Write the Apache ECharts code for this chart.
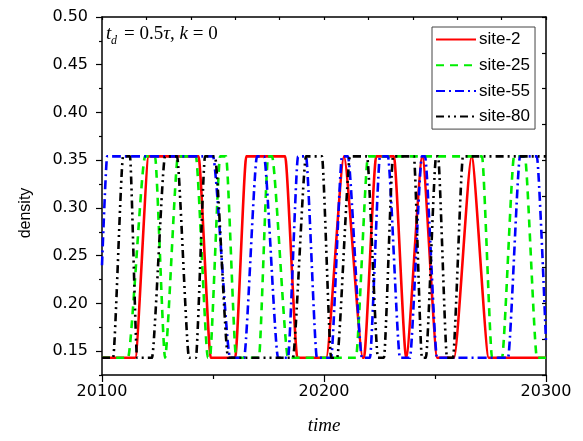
<!DOCTYPE html>
<html>
<head>
<meta charset="utf-8">
<script src="https://cdn.jsdelivr.net/npm/echarts@6/dist/echarts.min.js"></script>
<style>
  html, body { margin: 0; padding: 0; background: #fff; }
  #chart { width: 583px; height: 441px; }
</style>
</head>
<body>
<div id="chart"></div>
<script>
// density levels of the two plateaus
const LOW = 0.143;
const HIGH = 0.354;

// [time, density] samples for each site
const site2 = [
  [20100, LOW], [20115, LOW], [20121, HIGH], [20143.5, HIGH], [20149, LOW],
  [20160, LOW], [20165, HIGH], [20182.5, HIGH], [20188, LOW],
  [20201, LOW], [20209, HIGH], [20217.5, LOW],
  [20218, LOW], [20223.5, HIGH], [20231.5, HIGH], [20237, LOW],
  [20244.3, HIGH], [20251, LOW],
  [20258.6, LOW], [20266.5, HIGH], [20274.2, LOW],
  [20300, LOW]
];
const site25 = [
  [20100, LOW], [20111.7, LOW], [20119.4, HIGH], [20123.9, HIGH], [20128.4, LOW],
  [20134.2, HIGH], [20142.3, HIGH], [20147.7, LOW], [20148.6, LOW], [20153.2, HIGH],
  [20155.9, HIGH], [20160.4, LOW], [20170.7, LOW], [20174.8, HIGH], [20176.6, HIGH],
  [20183.8, LOW], [20214.4, LOW], [20219.8, HIGH], [20271.2, HIGH], [20275.7, LOW],
  [20280.2, LOW], [20285.6, HIGH], [20290.5, HIGH], [20295.9, LOW], [20300, LOW]
];
const site55 = [
  [20100, 0.24], [20102.3, HIGH], [20150, HIGH], [20157.7, LOW], [20164, LOW],
  [20169.8, HIGH], [20173, HIGH], [20179.3, LOW], [20183.8, LOW], [20188.3, HIGH],
  [20191.9, HIGH], [20196.8, LOW], [20203.2, LOW], [20208.1, HIGH], [20210.8, HIGH],
  [20217.1, LOW], [20220.7, LOW], [20225.2, HIGH], [20228.8, HIGH], [20234.2, LOW],
  [20238.7, LOW], [20244.1, HIGH], [20245.5, HIGH], [20250.9, LOW], [20282.9, LOW],
  [20288.3, HIGH], [20295.9, HIGH], [20300, 0.16]
];
const site80 = [
  [20100, LOW], [20105, LOW], [20109.5, HIGH], [20112.6, HIGH], [20115.8, LOW],
  [20122.5, LOW], [20128.4, HIGH], [20133.8, HIGH], [20139.2, LOW], [20142.3, LOW],
  [20146.4, HIGH], [20150.9, HIGH], [20156.8, LOW], [20186, LOW], [20191.9, HIGH],
  [20199.1, HIGH], [20203.2, LOW], [20205.9, LOW], [20211.7, HIGH], [20219.4, HIGH],
  [20224.3, LOW], [20227, LOW], [20231.1, HIGH], [20240.5, HIGH], [20244.1, LOW],
  [20245.9, LOW], [20250.5, HIGH], [20251.4, HIGH], [20255.4, LOW], [20258.1, LOW],
  [20262.6, HIGH], [20300, HIGH]
];

const seriesNames = ['site-2', 'site-25', 'site-55', 'site-80'];
const seriesData = [site2, site25, site55, site80];
const seriesColors = ['#ff0000', '#00ee00', '#0000ff', '#000000'];
const seriesDash = ['solid', [8, 6], [9, 4, 2, 4], [8, 4, 2, 4, 2, 4]];

// axis ranges and tick positions
const timeRange = [20100, 20300];
const densityRange = [0.125, 0.5];
const densityLabels = [0.15, 0.20, 0.25, 0.30, 0.35, 0.40, 0.45, 0.50];
const densityMinor = [0.125, 0.175, 0.225, 0.275, 0.325, 0.375, 0.425, 0.475];
const rightTicks = [0.125, 0.1625, 0.2, 0.2375, 0.275, 0.3125, 0.35, 0.3875, 0.425, 0.4625, 0.5];

const chart = echarts.init(document.getElementById('chart'), null, { renderer: 'canvas' });

const axisLine = { show: true, lineStyle: { color: '#000', width: 1.5 } };
const sans = 'DejaVu Sans';
const serif = 'Liberation Serif';

chart.setOption({
  backgroundColor: '#fff',
  animation: false,
  grid: { left: 102, right: 37, top: 17, bottom: 66, containLabel: false },
  xAxis: [
    {
      type: 'value', position: 'bottom', min: timeRange[0], max: timeRange[1], interval: 100,
      axisLine: axisLine,
      axisTick: { show: true, inside: false, length: 7, lineStyle: { color: '#000', width: 1.2 } },
      minorTick: { show: true, splitNumber: 2, length: 4, lineStyle: { color: '#000', width: 1.2 } },
      splitLine: { show: false },
      axisLabel: { color: '#000', fontFamily: sans, fontSize: 16, margin: 9, formatter: v => String(v) }
    },
    {
      type: 'value', position: 'top', min: timeRange[0], max: timeRange[1], interval: 20,
      axisLine: axisLine,
      axisTick: { show: true, inside: true, length: 3, lineStyle: { color: '#000', width: 1.2 } },
      splitLine: { show: false },
      axisLabel: { show: false }
    }
  ],
  yAxis: [
    {
      type: 'value', position: 'left', min: densityRange[0], max: densityRange[1],
      axisLine: axisLine,
      axisTick: { show: true, inside: false, length: 6, customValues: densityLabels, lineStyle: { color: '#000', width: 1.2 } },
      splitLine: { show: false },
      axisLabel: {
        color: '#000', fontFamily: sans, fontSize: 16, margin: 14,
        customValues: densityLabels,
        formatter: v => v.toFixed(2)
      }
    },
    {
      type: 'value', position: 'left', min: densityRange[0], max: densityRange[1],
      axisLine: { show: false },
      axisTick: { show: true, inside: false, length: 3, customValues: densityMinor, lineStyle: { color: '#000', width: 1.2 } },
      splitLine: { show: false },
      axisLabel: { show: false }
    },
    {
      type: 'value', position: 'right', min: densityRange[0], max: densityRange[1],
      axisLine: axisLine,
      axisTick: { show: true, inside: true, length: 4, customValues: rightTicks, lineStyle: { color: '#000', width: 1.2 } },
      splitLine: { show: false },
      axisLabel: { show: false }
    }
  ],
  legend: {
    orient: 'vertical',
    left: 432, top: 27,
    padding: [4, 5, 4, 3],
    itemWidth: 40, itemHeight: 13, itemGap: 8.7,
    borderColor: '#444', borderWidth: 1,
    backgroundColor: '#fff',
    itemStyle: { opacity: 0 },
    textStyle: { color: '#000', fontFamily: 'Liberation Sans', fontSize: 17, padding: [0, 0, 0, -2] },
    data: seriesNames
  },
  series: seriesNames.map((name, i) => ({
    name: name,
    type: 'line',
    data: seriesData[i],
    symbol: 'none',
    smooth: 0.2,
    smoothMonotone: 'x',
    clip: true,
    lineStyle: { color: seriesColors[i], width: 2.6, type: seriesDash[i] },
    itemStyle: { color: seriesColors[i] },
    emphasis: { disabled: true }
  })),
  graphic: [
    {
      type: 'text', x: 26, y: 213, rotation: Math.PI / 2,
      style: { text: 'density', fontFamily: 'Liberation Sans', fontSize: 16, fill: '#000', align: 'center', verticalAlign: 'middle' }
    },
    {
      type: 'text', x: 324, y: 426,
      style: { text: 'time', fontFamily: serif, fontStyle: 'italic', fontSize: 19, fill: '#000', align: 'center', verticalAlign: 'middle' }
    },
    {
      type: 'text', x: 106, y: 34,
      style: { text: 't', fontFamily: serif, fontStyle: 'italic', fontSize: 19, fill: '#000', align: 'left', verticalAlign: 'middle' }
    },
    {
      type: 'text', x: 111, y: 41,
      style: { text: 'd', fontFamily: serif, fontStyle: 'italic', fontSize: 12, fill: '#000', align: 'left', verticalAlign: 'middle' }
    },
    {
      type: 'text', x: 124, y: 34,
      style: {
        text: '{n|= 0.5}{i|τ}{n|, }{i|k}{n| = 0}',
        fill: '#000', align: 'left', verticalAlign: 'middle',
        rich: {
          n: { fontFamily: serif, fontSize: 19, fill: '#000' },
          i: { fontFamily: serif, fontStyle: 'italic', fontSize: 19, fill: '#000' }
        }
      }
    }
  ]
});
</script>
</body>
</html>
